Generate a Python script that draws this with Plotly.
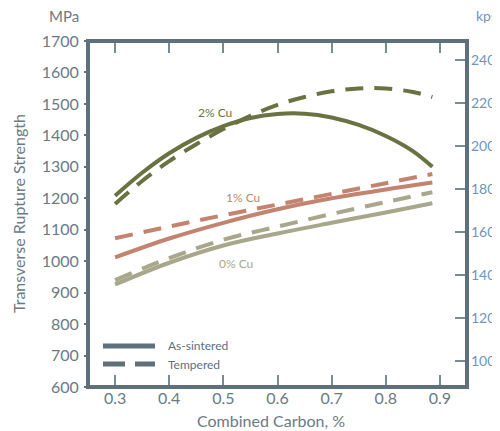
import plotly.graph_objects as go

# ---- data ----
carbon = [0.30, 0.35, 0.40, 0.45, 0.50, 0.55, 0.60, 0.65, 0.70, 0.75, 0.80, 0.85, 0.886]
cu2_sintered = [1208, 1281, 1343, 1392, 1429, 1455, 1468, 1469, 1457, 1433, 1398, 1350, 1300]
cu2_tempered = [1182, 1255, 1318, 1372, 1420, 1462, 1497, 1522, 1540, 1549, 1549, 1538, 1522]

carbon_b = [0.30, 0.40, 0.50, 0.60, 0.70, 0.80, 0.886]
cu1_sintered = [1012, 1072, 1122, 1165, 1200, 1228, 1250]
cu1_tempered = [1073, 1110, 1146, 1180, 1214, 1248, 1277]
cu0_sintered = [926, 995, 1050, 1088, 1122, 1155, 1184]
cu0_tempered = [940, 1010, 1068, 1110, 1150, 1188, 1219]

mpa_ticks = [600, 700, 800, 900, 1000, 1100, 1200, 1300, 1400, 1500, 1600, 1700]
kpsi_ticks = [100, 120, 140, 160, 180, 200, 220, 240]
x_ticks = [0.3, 0.4, 0.5, 0.6, 0.7, 0.8, 0.9]

labels = [("2% Cu", 0.485, 1474), ("1% Cu", 0.536, 1204), ("0% Cu", 0.523, 993)]

# ---- styles ----
OLIVE = "#6b7242"
SALMON = "#c3846f"
KHAKI = "#a8a78c"
FRAME = "#5e707b"
GRAY_TXT = "#6a7a85"
BLUE_TXT = "#6f95ba"
FONT = "Lato"
LW = 4
DASH = "18px,11px"

fig = go.Figure()

series = [
    (carbon, cu2_sintered, OLIVE, "solid"),
    (carbon, cu2_tempered, OLIVE, DASH),
    (carbon_b, cu1_sintered, SALMON, "solid"),
    (carbon_b, cu1_tempered, SALMON, DASH),
    (carbon_b, cu0_sintered, KHAKI, "solid"),
    (carbon_b, cu0_tempered, KHAKI, DASH),
]
for xs, ys, col, dash in series:
    fig.add_trace(go.Scatter(x=xs, y=ys, mode="lines",
                             line=dict(color=col, width=LW, dash=dash, shape="spline", smoothing=1.0),
                             showlegend=False, hoverinfo="skip"))

# invisible trace to activate the right axis
fig.add_trace(go.Scatter(x=[None], y=[None], yaxis="y2", showlegend=False))

label_colors = [OLIVE, SALMON, KHAKI]
for (txt, lx, ly), col in zip(labels, label_colors):
    fig.add_annotation(x=lx, y=ly, text=txt, showarrow=False, xanchor="center", yanchor="middle",
                       font=dict(family=FONT, size=12, color=col))

# the page places the figure 8px in from the top-left corner
OFF = 8
W, H = 500 - OFF, 431 - OFF
PL, PR, PT, PB = 88, 467, 41, 387          # plot area in page pixels
ml, mt = PL - OFF, PT - OFF
mr = W - (PR - OFF)
mb = H - (PB - OFF)
pw, ph = PR - PL, PB - PT

def px(xp):
    return (xp - PL) / pw

def py(yp):
    return 1 - (yp - PT) / ph

def note(x, y, text, size, color, xanchor="center", angle=0):
    fig.add_annotation(xref="paper", yref="paper", x=px(x), y=py(y), text=text, showarrow=False,
                       xanchor=xanchor, yanchor="middle", textangle=angle,
                       font=dict(family=FONT, size=size, color=color))

# frame
fig.add_shape(type="rect", xref="paper", yref="paper", x0=0, x1=1, y0=0, y1=1,
              line=dict(color=FRAME, width=4), layer="above")

# legend (drawn manually)
fig.add_shape(type="line", xref="paper", yref="paper", x0=px(103), x1=px(155), y0=py(346), y1=py(346),
              line=dict(color=FRAME, width=5))
fig.add_shape(type="line", xref="paper", yref="paper", x0=px(103), x1=px(155), y0=py(364), y1=py(364),
              line=dict(color=FRAME, width=5, dash="22px,10px"))
note(166, 345, "As-sintered", 12, FRAME, xanchor="left")
note(166, 364, "Tempered", 12, FRAME, xanchor="left")

# units and titles
note(64, 16, "MPa", 15, GRAY_TXT)
note(474, 16, "kpsi", 14, BLUE_TXT, xanchor="left")
note(18, 214, "Transverse Rupture Strength", 16, GRAY_TXT, angle=-90)
note(271, 420, "Combined Carbon, %", 16, GRAY_TXT)

fig.update_layout(
    width=W, height=H,
    margin=dict(l=ml, r=mr, t=mt, b=mb, pad=0, autoexpand=False),
    paper_bgcolor="white", plot_bgcolor="white",
    font=dict(family=FONT, color=GRAY_TXT),
    xaxis=dict(range=[0.25, 0.95], tickvals=x_ticks, ticktext=[f"{v:.1f}" for v in x_ticks],
               ticks="inside", ticklen=12, tickwidth=1.5, tickcolor="#7a8a94",
               mirror="ticks", showline=False, showgrid=False, zeroline=False, automargin=False,
               tickfont=dict(family=FONT, size=16, color=GRAY_TXT), ticklabelstandoff=0),
    yaxis=dict(range=[600, 1700], tickvals=mpa_ticks,
               ticks="outside", ticklen=3, tickwidth=1.5, tickcolor=FRAME, automargin=False,
               showline=False, showgrid=False, zeroline=False,
               tickfont=dict(family=FONT, size=16, color=GRAY_TXT), ticklabelstandoff=2),
    yaxis2=dict(range=[87.91, 248.84], tickvals=kpsi_ticks, overlaying="y", side="right",
                ticks="inside", ticklen=12, tickwidth=1.5, tickcolor="#7a8a94", automargin=False,
                showline=False, showgrid=False, zeroline=False,
                tickfont=dict(family=FONT, size=14, color=BLUE_TXT), ticklabelstandoff=3),
)

fig.write_html("out.html")
